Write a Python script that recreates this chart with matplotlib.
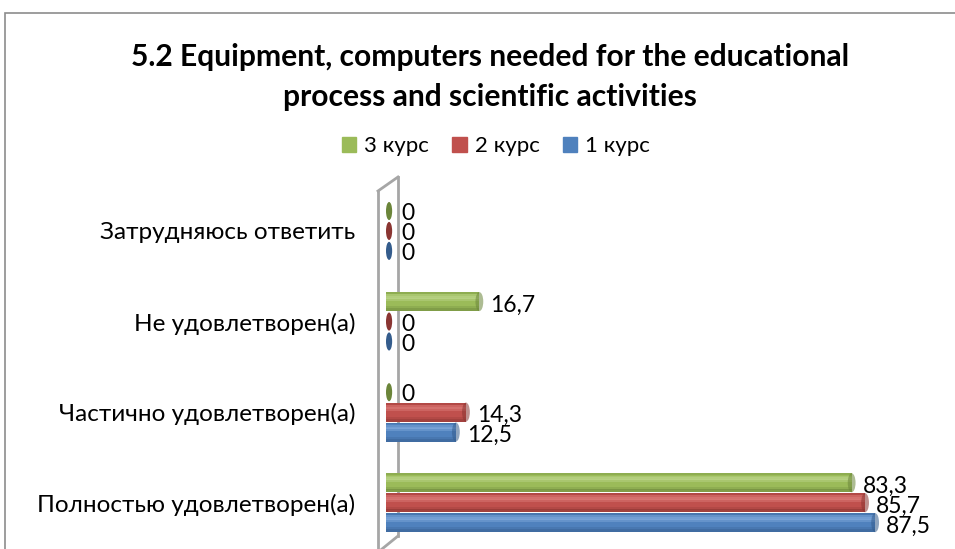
import matplotlib
matplotlib.use("Agg")
import matplotlib.pyplot as plt
from matplotlib.patches import Ellipse, Patch, Rectangle
import numpy as np

plt.rcParams['font.family'] = ['Lato', 'DejaVu Sans']

categories = ["Полностью удовлетворен(а)", "Частично удовлетворен(а)",
              "Не удовлетворен(а)", "Затрудняюсь ответить"]
series_names = ["3 курс", "2 курс", "1 курс"]
values_3 = [83.3, 0, 16.7, 0]
values_2 = [85.7, 14.3, 0, 0]
values_1 = [87.5, 12.5, 0, 0]
title = "5.2 Equipment, computers needed for the educational\nprocess and scientific activities"

series = [values_3, values_2, values_1]
colors = ["#9BBB59", "#C0504D", "#4F81BD"]
light = ["#BCD58A", "#DB7D7A", "#80A9DC"]
dark = ["#6B853A", "#8A3532", "#345C8C"]
offsets = [0.22, 0.0, -0.22]
h = 0.21

W, H = 955, 549
fig = plt.figure(figsize=(W / 100, H / 100), dpi=100)
ax = fig.add_axes([386 / W, 1 / H, 559 / W, (548 - 176.6) / H])
ax.set_xlim(0, 100)
ax.set_ylim(-0.5, 3.6)

# cylinder shading bands: (relative offset from centre, relative height, kind, alpha)
bands = [(-0.42, 0.16, "dark", 0.55), (-0.30, 0.12, "dark", 0.25),
         (0.12, 0.14, "light", 0.45), (0.22, 0.12, "light", 0.75),
         (0.33, 0.10, "light", 0.45), (0.45, 0.10, "dark", 0.25)]

y = np.arange(len(categories))
for vals, c, lc, dc, off in zip(series, colors, light, dark, offsets):
    vals = np.array(vals)
    ax.barh(y + off, vals, height=h, color=c, zorder=3, linewidth=0)
    for rel, rh, kind, al in bands:
        ax.barh(y + off + rel * h, vals, height=rh * h, color=(lc if kind == "light" else dc),
                alpha=al, zorder=3.1, linewidth=0)
    for yi, v in zip(y, vals):
        if v > 0:
            ax.add_patch(Ellipse((v, yi + off), 1.4, h, color=dc, alpha=0.55, zorder=3.2, lw=0))
            ax.text(v + 2.0, yi + off - 0.04, f"{v:.1f}".replace(".", ","),
                    ha="left", va="center", fontsize=16.5, zorder=5)
        else:
            ax.add_patch(Ellipse((0.55, yi + off), 1.1, h * 0.95, color=dc, zorder=3.2, lw=0))
            ax.text(2.8, yi + off - 0.03, "0", ha="left", va="center", fontsize=16.5, zorder=5)

ax.set_yticks(y)
ax.set_yticklabels(categories, fontsize=17.5)
ax.tick_params(axis="y", length=0, pad=22)
ax.set_xticks([])
for s in ax.spines.values():
    s.set_visible(False)
ax.patch.set_alpha(0)

# 3D wall outline
def fp(x, yy):
    return x / W, 1 - yy / H
wall = [((378, 191), (378, 549)), ((378, 191), (398, 177)), ((398, 177), (398, 536)),
        ((398, 536), (382, 549))]
for (a, b) in wall:
    p1, p2 = fp(*a), fp(*b)
    ax.plot([p1[0], p2[0]], [p1[1], p2[1]], transform=fig.transFigure,
            color="#A6A6A6", lw=2, clip_on=False, zorder=1)

# chart border
fig.add_artist(Rectangle((5 / W, -0.1), 1.2, 1 - 13 / H + 0.1, transform=fig.transFigure,
                         fill=False, edgecolor="#8C8C8C", lw=1.2))

fig.text(490 / W, 1 - 77 / H, title, ha="center", va="center", fontsize=21.6,
         fontweight="bold", linespacing=1.55)

handles = [Patch(color=c) for c in colors]
fig.legend(handles, series_names, loc="center", bbox_to_anchor=(496 / W, 1 - 146 / H),
           ncol=3, frameon=False, fontsize=16, handlelength=0.64, handleheight=0.64,
           handletextpad=0.36, columnspacing=1.05)

fig.savefig("out.png", dpi=100)
